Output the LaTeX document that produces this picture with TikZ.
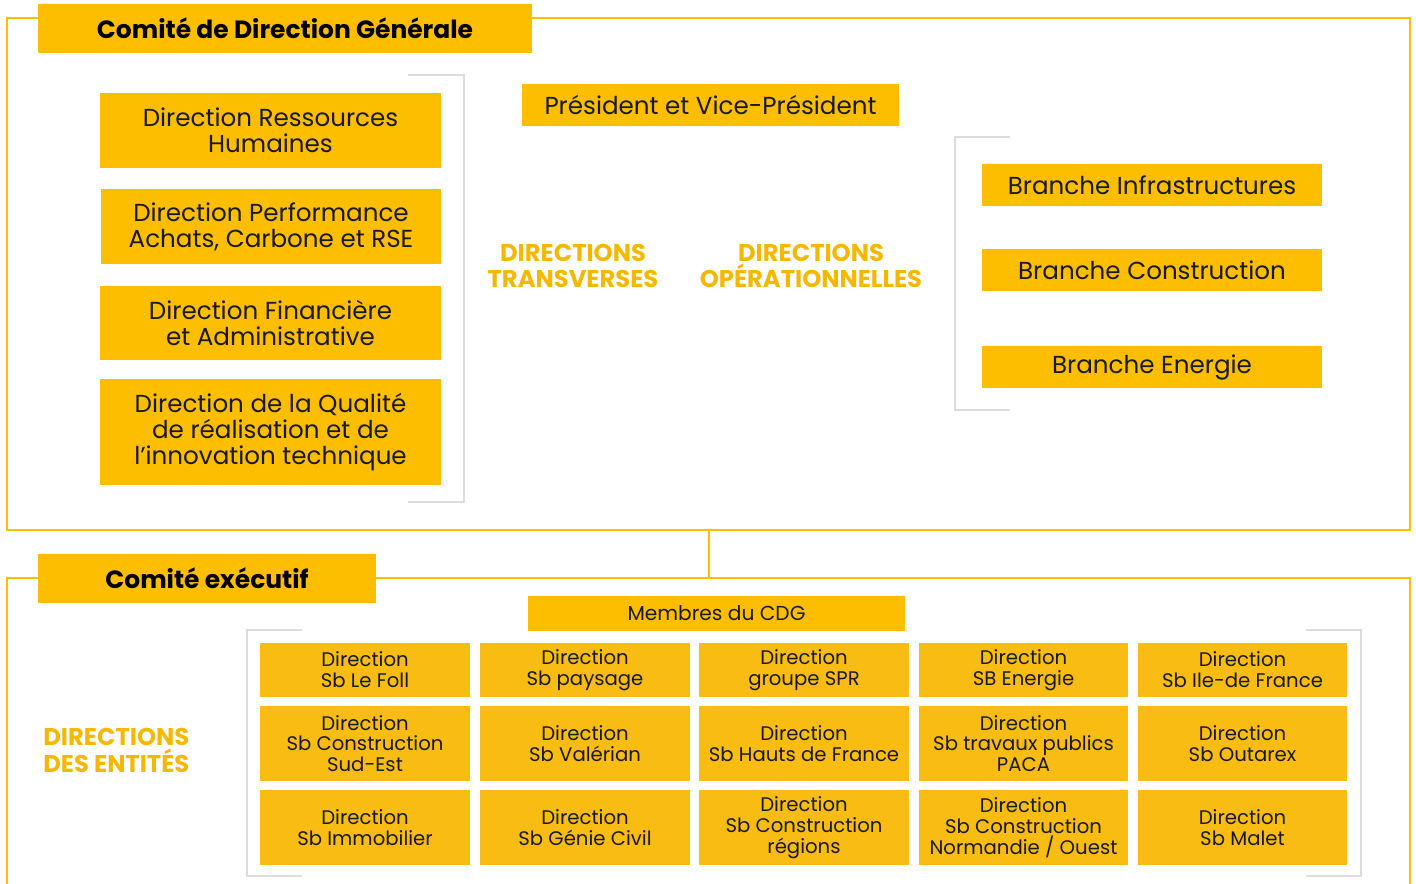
\documentclass[tikz,border=0pt]{standalone}
\usepackage{fontspec}
\setmainfont{Poppins}
\definecolor{jaune}{HTML}{FDBE00}
\definecolor{jauneb}{HTML}{F9BC12}
\definecolor{jaunetxt}{HTML}{F4B800}
\definecolor{gris}{HTML}{DCDCDC}
\tikzset{
  cadre/.style={draw=jaune, line width=1.2pt},
  titre/.style={fill=jaune, font=\bfseries\fontsize{14.2}{16}\selectfont, inner sep=0pt},
  boite/.style={fill=jaune, align=center, inner sep=0pt, text=black!90,
    font=\fontsize{14}{14.7}\selectfont},
  entite/.style={fill=jauneb, align=center, inner sep=0pt, text=black!90,
    minimum width=4.2cm, font=\fontsize{11.2}{11.9}\selectfont},
  rubrique/.style={text=jaunetxt, align=center, inner sep=0pt, font=\bfseries\fontsize{13.8}{15.3}\selectfont},
  crochet/.style={draw=gris, line width=1.6pt}
}
\begin{document}
\begin{tikzpicture}[x=0.02cm, y=-0.02cm]
\useasboundingbox (0,0) rectangle (1416,883);
% cadres
\draw[cadre] (7,18) rectangle (1410,530);
\draw[cadre] (7,890) -- (7,578) -- (1410,578) -- (1410,890);
\coordinate (cdgbas) at (709,530);
\coordinate (comexhaut) at (709,578);
\draw[cadre] (cdgbas) -- (comexhaut);
% comite de direction generale
\node[titre, minimum width=9.88cm, minimum height=0.98cm] (cdg) at (285,28.5) {Comité de Direction Générale};
\draw[crochet] (408,75) -- (464,75) -- (464,502) -- (408,502);
\node[boite, minimum width=6.82cm, minimum height=1.5cm] (drh) at (270.5,130.5) {Direction Ressources\\Humaines};
\node[boite, minimum width=6.82cm, minimum height=1.5cm] (dpa) at (271,226.5) {Direction Performance\\Achats, Carbone et RSE};
\node[boite, minimum width=6.82cm, minimum height=1.48cm] (dfa) at (270.5,323) {Direction Financière\\et Administrative};
\node[boite, minimum width=6.82cm, minimum height=2.12cm] (dqr) at (270.5,432) {Direction de la Qualité\\de réalisation et de\\l’innovation technique};
\node[boite, minimum width=7.54cm, minimum height=0.84cm] (pres) at (710.5,105) {Président et Vice-Président};
\node[rubrique] (trans) at (573,266) {DIRECTIONS\\TRANSVERSES};
\node[rubrique] (ops) at (811,266) {DIRECTIONS\\OPÉRATIONNELLES};
\draw[crochet] (1010,137) -- (955,137) -- (955,410) -- (1010,410);
\node[boite, minimum width=6.8cm, minimum height=0.84cm] (binf) at (1152,185) {Branche Infrastructures};
\node[boite, minimum width=6.8cm, minimum height=0.84cm] (bcon) at (1152,270) {Branche Construction};
\node[boite, minimum width=6.8cm, minimum height=0.84cm] (bene) at (1152,367) {Branche Energie};
% comite executif
\node[titre, minimum width=6.76cm, minimum height=0.98cm] (comex) at (207,578.5) {Comité exécutif};
\node[boite, minimum width=7.54cm, minimum height=0.7cm, font=\fontsize{11.5}{12}\selectfont] (membres) at (716.5,613.5) {Membres du CDG};
\node[rubrique, align=left, anchor=west] (entites) at (43,750) {DIRECTIONS\\DES ENTITÉS};
\draw[crochet] (302,630) -- (247,630) -- (247,876) -- (302,876);
\draw[crochet] (1306,630) -- (1361,630) -- (1361,876) -- (1306,876);
% ligne 1
\node[entite, minimum height=1.08cm] (lefoll) at (365,670) {Direction\\Sb Le Foll};
\node[entite, minimum height=1.08cm] (paysage) at (585,670) {Direction\\Sb paysage};
\node[entite, minimum height=1.08cm] (spr) at (804,670) {Direction\\groupe SPR};
\node[entite, minimum height=1.08cm] (sbener) at (1023.5,670) {Direction\\SB Energie};
\node[entite, minimum height=1.08cm] (idf) at (1242.5,670) {Direction\\Sb Ile-de France};
% ligne 2
\node[entite, minimum height=1.5cm] (sudest) at (365,743.5) {Direction\\Sb Construction\\Sud-Est};
\node[entite, minimum height=1.5cm] (valerian) at (585,743.5) {Direction\\Sb Valérian};
\node[entite, minimum height=1.5cm] (hdf) at (804,743.5) {Direction\\Sb Hauts de France};
\node[entite, minimum height=1.5cm] (paca) at (1023.5,743.5) {Direction\\Sb travaux publics\\PACA};
\node[entite, minimum height=1.5cm] (outarex) at (1242.5,743.5) {Direction\\Sb Outarex};
% ligne 3
\node[entite, minimum height=1.5cm] (immo) at (365,827.5) {Direction\\Sb Immobilier};
\node[entite, minimum height=1.5cm] (genie) at (585,827.5) {Direction\\Sb Génie Civil};
\node[entite, minimum height=1.5cm] (regions) at (804,827.5) {Direction\\Sb Construction\\régions};
\node[entite, minimum height=1.5cm] (normandie) at (1023.5,827.5) {Direction\\Sb Construction\\Normandie / Ouest};
\node[entite, minimum height=1.5cm] (malet) at (1242.5,827.5) {Direction\\Sb Malet};
\end{tikzpicture}
\end{document}
